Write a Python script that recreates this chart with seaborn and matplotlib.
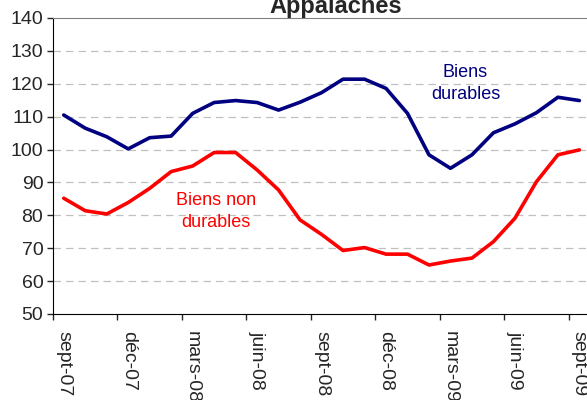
import numpy as np
import pandas as pd
import matplotlib
matplotlib.use("Agg")
import matplotlib.pyplot as plt
import seaborn as sns

mois = ["sept-07", "oct-07", "nov-07", "déc-07", "janv-08", "févr-08", "mars-08",
        "avr-08", "mai-08", "juin-08", "juil-08", "août-08", "sept-08", "oct-08",
        "nov-08", "déc-08", "janv-09", "févr-09", "mars-09", "avr-09", "mai-09",
        "juin-09", "juil-09", "août-09", "sept-09"]

durables = [110.5, 106.5, 103.9, 100.2, 103.6, 104.1, 111.0, 114.3, 114.9, 114.3,
            112.0, 114.4, 117.3, 121.4, 121.4, 118.6, 111.0, 98.4, 94.3, 98.4,
            105.1, 107.8, 111.2, 115.9, 114.9]

non_durables = [85.2, 81.4, 80.4, 83.9, 88.2, 93.3, 95.0, 99.1, 99.1, 93.8,
                87.7, 78.6, 74.2, 69.3, 70.2, 68.2, 68.2, 64.9, 66.1, 67.0,
                72.0, 79.1, 90.2, 98.4, 99.9]

df = pd.DataFrame({
    "idx": list(range(len(mois))) * 2,
    "valeur": durables + non_durables,
    "serie": ["Biens durables"] * len(mois) + ["Biens non durables"] * len(mois),
})

sns.set_style("white")
plt.rcParams["font.family"] = ["Liberation Sans", "DejaVu Sans"]

fig = plt.figure(figsize=(5.87, 4.00), dpi=100)
ax = fig.add_axes([0.0903, 0.215, 0.915, 0.74])

sns.lineplot(data=df, x="idx", y="valeur", hue="serie",
             palette={"Biens durables": "#000080", "Biens non durables": "#FF0000"},
             linewidth=2.6, legend=False, ax=ax)

ax.set_xlim(-0.5, len(mois) - 0.5)
ax.set_ylim(50, 140)
ax.set_yticks(np.arange(50, 141, 10))
ax.tick_params(axis="y", labelsize=14, length=4, width=1, pad=3, direction="out", left=True)

ax.set_xticks(range(0, len(mois), 3))
ax.set_xticklabels(mois[::3], rotation=-90, fontsize=14, va="top", ha="center")
ax.set_xticks(np.arange(-0.5, len(mois) - 0.5, 3), minor=True)
ax.tick_params(axis="x", which="major", length=0, pad=12)
ax.tick_params(axis="x", which="minor", length=4, width=1, direction="out", bottom=True)

for v in range(60, 140, 10):
    ax.axhline(v, color="#c0c0c0", lw=0.9, ls=(0, (6, 4)), zorder=0)

ax.spines["left"].set_color("black")
ax.spines["bottom"].set_color("black")
ax.spines["top"].set_color("#808080")
ax.spines["right"].set_visible(False)
ax.set_xlabel("")
ax.set_ylabel("")

ax.text(18.7, 120.2, "Biens\ndurables", color="#000080", fontsize=13,
        ha="center", va="center", linespacing=1.4)
ax.text(7.1, 81.2, "Biens non\ndurables", color="#FF0000", fontsize=13,
        ha="center", va="center", linespacing=1.4)

fig.text(0.572, 1 - 13 / 400, "Appalaches", fontsize=17, fontweight="bold",
         ha="center", va="baseline")

fig.savefig("out.png", dpi=100)
